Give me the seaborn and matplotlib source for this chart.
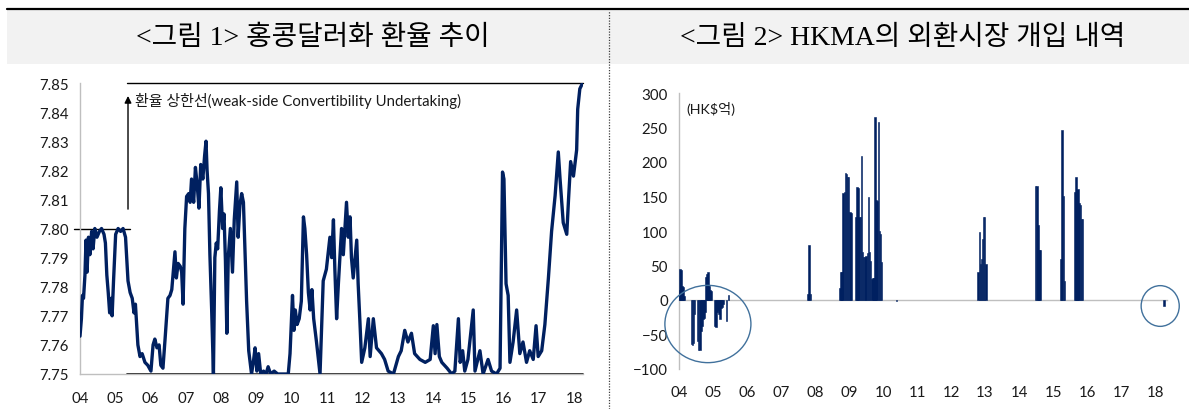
import numpy as np
import pandas as pd
import matplotlib.pyplot as plt
import seaborn as sns
from matplotlib.patches import Ellipse, Rectangle
from matplotlib.lines import Line2D

# <그림 1> HKD/USD exchange rate (year, rate)
fx_year = [2004.00, 2004.04, 2004.07, 2004.10, 2004.14, 2004.17, 2004.20, 2004.24, 2004.28, 2004.33,
           2004.37, 2004.42, 2004.48, 2004.55, 2004.61, 2004.68, 2004.72, 2004.76, 2004.80, 2004.84,
           2004.88, 2004.91, 2004.95, 2005.01, 2005.08, 2005.15, 2005.22, 2005.29, 2005.36, 2005.42,
           2005.48, 2005.53, 2005.57, 2005.64, 2005.70, 2005.76, 2005.84, 2005.92, 2006.01, 2006.07,
           2006.12, 2006.18, 2006.24, 2006.29, 2006.35, 2006.41, 2006.49, 2006.55, 2006.60, 2006.69,
           2006.73, 2006.78, 2006.84, 2006.88, 2006.92, 2006.97, 2007.02, 2007.08, 2007.12, 2007.16,
           2007.22, 2007.27, 2007.32, 2007.37, 2007.42, 2007.48, 2007.53, 2007.57, 2007.60, 2007.64,
           2007.68, 2007.73, 2007.78, 2007.82, 2007.86, 2007.90, 2007.95, 2007.99, 2008.04, 2008.08,
           2008.12, 2008.16, 2008.20, 2008.26, 2008.32, 2008.37, 2008.44, 2008.48, 2008.53, 2008.58,
           2008.63, 2008.68, 2008.72, 2008.78, 2008.86, 2008.92, 2008.96, 2009.01, 2009.06, 2009.12,
           2009.20, 2009.27, 2009.33, 2009.40, 2009.50, 2009.60, 2009.70, 2009.80, 2009.90, 2009.95,
           2010.02, 2010.06, 2010.10, 2010.15, 2010.21, 2010.27, 2010.33, 2010.37, 2010.42, 2010.47,
           2010.52, 2010.57, 2010.62, 2010.70, 2010.80, 2010.89, 2010.98, 2011.08, 2011.13, 2011.18,
           2011.22, 2011.27, 2011.32, 2011.41, 2011.46, 2011.55, 2011.60, 2011.65, 2011.69, 2011.74,
           2011.84, 2011.88, 2011.93, 2011.98, 2012.07, 2012.17, 2012.22, 2012.31, 2012.40, 2012.54,
           2012.63, 2012.73, 2012.88, 2013.02, 2013.10, 2013.20, 2013.29, 2013.39, 2013.48, 2013.63,
           2013.78, 2013.92, 2014.01, 2014.06, 2014.11, 2014.18, 2014.25, 2014.40, 2014.53, 2014.62,
           2014.72, 2014.77, 2014.84, 2014.90, 2014.99, 2015.14, 2015.19, 2015.33, 2015.42, 2015.56,
           2015.66, 2015.80, 2015.90, 2015.97, 2016.01, 2016.07, 2016.13, 2016.18, 2016.27, 2016.37,
           2016.46, 2016.55, 2016.65, 2016.74, 2016.84, 2016.92, 2016.98, 2017.08, 2017.17, 2017.27,
           2017.36, 2017.46, 2017.55, 2017.60, 2017.69, 2017.79, 2017.84, 2017.90, 2017.98, 2018.07,
           2018.10, 2018.16, 2018.24]
fx_rate = [7.763, 7.769, 7.777, 7.776, 7.784, 7.796, 7.785, 7.797, 7.791, 7.799,
           7.793, 7.800, 7.797, 7.799, 7.800, 7.798, 7.795, 7.784, 7.778, 7.771,
           7.776, 7.770, 7.782, 7.798, 7.800, 7.799, 7.800, 7.797, 7.782, 7.778,
           7.776, 7.771, 7.774, 7.760, 7.756, 7.757, 7.754, 7.753, 7.751, 7.760,
           7.762, 7.759, 7.760, 7.753, 7.752, 7.762, 7.776, 7.777, 7.779, 7.792,
           7.783, 7.788, 7.787, 7.785, 7.774, 7.800, 7.811, 7.812, 7.809, 7.817,
           7.809, 7.821, 7.815, 7.807, 7.822, 7.817, 7.825, 7.830, 7.820, 7.812,
           7.791, 7.772, 7.750, 7.790, 7.795, 7.793, 7.806, 7.814, 7.800, 7.805,
           7.789, 7.764, 7.790, 7.800, 7.785, 7.803, 7.816, 7.797, 7.808, 7.812,
           7.809, 7.790, 7.775, 7.758, 7.750, 7.755, 7.759, 7.751, 7.757, 7.750,
           7.751, 7.750, 7.7525, 7.750, 7.751, 7.750, 7.750, 7.750, 7.750, 7.757,
           7.777, 7.765, 7.772, 7.767, 7.769, 7.775, 7.804, 7.800, 7.791, 7.778,
           7.772, 7.779, 7.769, 7.761, 7.750, 7.782, 7.786, 7.797, 7.790, 7.803,
           7.786, 7.769, 7.781, 7.800, 7.791, 7.809, 7.797, 7.804, 7.790, 7.783,
           7.796, 7.781, 7.768, 7.754, 7.759, 7.769, 7.756, 7.769, 7.759, 7.757,
           7.755, 7.751, 7.750, 7.756, 7.758, 7.765, 7.761, 7.764, 7.757, 7.755,
           7.754, 7.755, 7.7666, 7.757, 7.767, 7.756, 7.754, 7.752, 7.750, 7.751,
           7.769, 7.754, 7.758, 7.751, 7.755, 7.772, 7.751, 7.758, 7.750, 7.755,
           7.751, 7.750, 7.752, 7.8194, 7.817, 7.781, 7.777, 7.754, 7.761, 7.772,
           7.757, 7.761, 7.754, 7.758, 7.755, 7.7666, 7.756, 7.758, 7.767, 7.783,
           7.799, 7.8113, 7.8263, 7.817, 7.802, 7.798, 7.810, 7.823, 7.818, 7.827,
           7.841, 7.848, 7.850]

# <그림 2> HKMA FX intervention, HK$ 100m (year, amount)
iv_year = [2004.01, 2004.03, 2004.06, 2004.09, 2004.12, 2004.15,
           2004.37, 2004.40, 2004.43, 2004.46, 2004.55, 2004.58, 2004.61, 2004.64, 2004.67, 2004.70,
           2004.73, 2004.76, 2004.79, 2004.82, 2004.85, 2004.88, 2004.91, 2004.94,
           2005.06, 2005.09, 2005.12, 2005.15, 2005.18, 2005.21, 2005.24, 2005.27, 2005.30, 2005.40, 2005.45,
           2007.80, 2007.83, 2007.86,
           2008.74, 2008.77, 2008.80, 2008.83, 2008.86, 2008.90, 2008.93, 2008.96, 2008.99, 2009.03, 2009.06,
           2009.21, 2009.24, 2009.27, 2009.30, 2009.34, 2009.37, 2009.40, 2009.43, 2009.47, 2009.50,
           2009.54, 2009.57, 2009.60, 2009.63, 2009.67, 2009.70, 2009.73, 2009.76, 2009.79, 2009.82,
           2009.86, 2009.89, 2009.92, 2009.96, 2010.40,
           2012.80, 2012.83, 2012.86, 2012.89, 2012.92, 2012.95, 2012.98, 2013.02,
           2014.49, 2014.52, 2014.55, 2014.58, 2014.61,
           2015.24, 2015.27, 2015.30, 2015.33,
           2015.65, 2015.68, 2015.71, 2015.74, 2015.77, 2015.80, 2015.83, 2015.86,
           2018.26]
iv_amount = [14, 45, 43, 20, 19, 6,
             -64, -65, -63, -21, -60, -73, -72, -45, -37, -28,
             -26, -18, 33, 38, 41, 21, 14, 13,
             -37, -39, -18, -14, -20, -28, -12, -10, -6, -30, 7,
             8, 79, 8,
             18, 40, 40, 155, 156, 184, 182, 178, 178, 128, 126,
             120, 164, 163, 120, 121, 208, 70, 62, 62, 64,
             68, 150, 70, 57, 31, 32, 32, 265, 145, 143,
             258, 100, 95, 55, -1.5,
             40, 98, 52, 60, 88, 121, 120, 52,
             165, 165, 108, 72, 72,
             60, 246, 151, 28,
             156, 178, 160, 161, 140, 137, 118, 118,
             -8]

years = list(range(2004, 2019))
year_labels = [f"{y % 100:02d}" for y in years]

navy = "#002060"
axis_grey = "#bfbfbf"

sns.set_theme(style="white")
plt.rcParams["font.family"] = ["Lato", "Noto Sans CJK KR", "DejaVu Sans"]

W, H = 1189, 410
fig = plt.figure(figsize=(W / 100, H / 100), dpi=100)

# title band
fig.patches.append(Rectangle((7 / W, 1 - 65 / H), 1 - 7 / W, 54 / H, transform=fig.transFigure,
                             facecolor="#f2f2f2", edgecolor="none", zorder=0))
fig.lines.append(Line2D([7 / W, 1], [1 - 10 / H] * 2, transform=fig.transFigure, color="black", lw=1.6))
fig.lines.append(Line2D([609 / W] * 2, [0, 1 - 12 / H], transform=fig.transFigure, color="#404040",
                        lw=0.9, ls=(0, (1, 1.2))))
title_font = ["Liberation Serif", "Noto Sans CJK KR"]
fig.text(313 / W, 1 - 38 / H, "<그림 1> 홍콩달러화 환율 추이", ha="center", va="center",
         fontsize=20, family=title_font, color="black")
fig.text(903 / W, 1 - 38 / H, "<그림 2> HKMA의 외환시장 개입 내역", ha="center", va="center",
         fontsize=20, family=title_font, color="black")

# ---- left: exchange rate line
ax1 = fig.add_axes([80 / W, 1 - 375 / H, (583 - 80) / W, (375 - 84) / H])
df_fx = pd.DataFrame({"year": fx_year, "rate": fx_rate})
sns.lineplot(data=df_fx, x="year", y="rate", color=navy, lw=2.4, ax=ax1, zorder=3)
ax1.set_xlim(2004, 2018.25)
ax1.set_ylim(7.75, 7.85)
ax1.set_yticks(np.arange(7.75, 7.851, 0.01))
ax1.yaxis.set_major_formatter(plt.FormatStrFormatter("%.2f"))
ax1.set_xticks(years)
ax1.set_xticklabels(year_labels)
ax1.set_xlabel("")
ax1.set_ylabel("")

# band lines and annotation
ax1.plot([2003.83, 2005.42], [7.80, 7.80], color="black", lw=1, clip_on=False, zorder=2)
ax1.plot([2005.33, 2018.25], [7.85, 7.85], color="black", lw=1, clip_on=False, zorder=2)
ax1.plot([2005.33, 2018.25], [7.75, 7.75], color="black", lw=1.2, clip_on=False, zorder=2)
ax1.annotate("", xy=(2005.36, 7.8465), xytext=(2005.36, 7.8057),
             arrowprops=dict(arrowstyle="-|>", color="black", lw=1, mutation_scale=10))
ax1.text(2005.56, 7.8442, "환율 상한선(weak-side Convertibility Undertaking)", ha="left", va="center",
         fontsize=10.8, color="#1a1a1a")

# ---- right: intervention bars
ax2 = fig.add_axes([679 / W, 1 - 370 / H, (1167 - 679) / W, (370 - 94) / H])
ax2.bar(iv_year, iv_amount, width=0.045, color=navy, edgecolor=navy, linewidth=0.4, zorder=3)
ax2.set_xlim(2004, 2018.35)
ax2.set_ylim(-100, 300)
ax2.set_yticks(range(-100, 301, 50))
ax2.set_xticks(years)
ax2.set_xticklabels(year_labels)
ax2.spines["bottom"].set_position(("data", 0))
ax2.text(2004.22, 278, "(HK$억)", ha="left", va="center", fontsize=10.3, color="#1a1a1a")

ax2.add_patch(Ellipse((2004.85, -34.8), 2.53, 112, fill=False, edgecolor="#41719c", lw=1.0,
                      clip_on=False, zorder=4))
ax2.add_patch(Ellipse((2018.15, -8.7), 1.12, 59, fill=False, edgecolor="#41719c", lw=1.0,
                      clip_on=False, zorder=4))

for ax in (ax1, ax2):
    for side in ("top", "right"):
        ax.spines[side].set_visible(False)
    for side in ("left", "bottom"):
        ax.spines[side].set_color(axis_grey)
        ax.spines[side].set_linewidth(1)
    ax.tick_params(axis="both", which="both", direction="out", length=4, width=0.8,
                   color=axis_grey, labelsize=10.8, labelcolor="#1a1a1a")
    ax.tick_params(axis="y", pad=4)
    ax.set_facecolor("none")

ax1.tick_params(axis="x", pad=8)
# labels of right panel sit below the -100 line although the spine is at zero
ax2.tick_params(axis="x", pad=57)

fig.savefig("out.png", dpi=100)
